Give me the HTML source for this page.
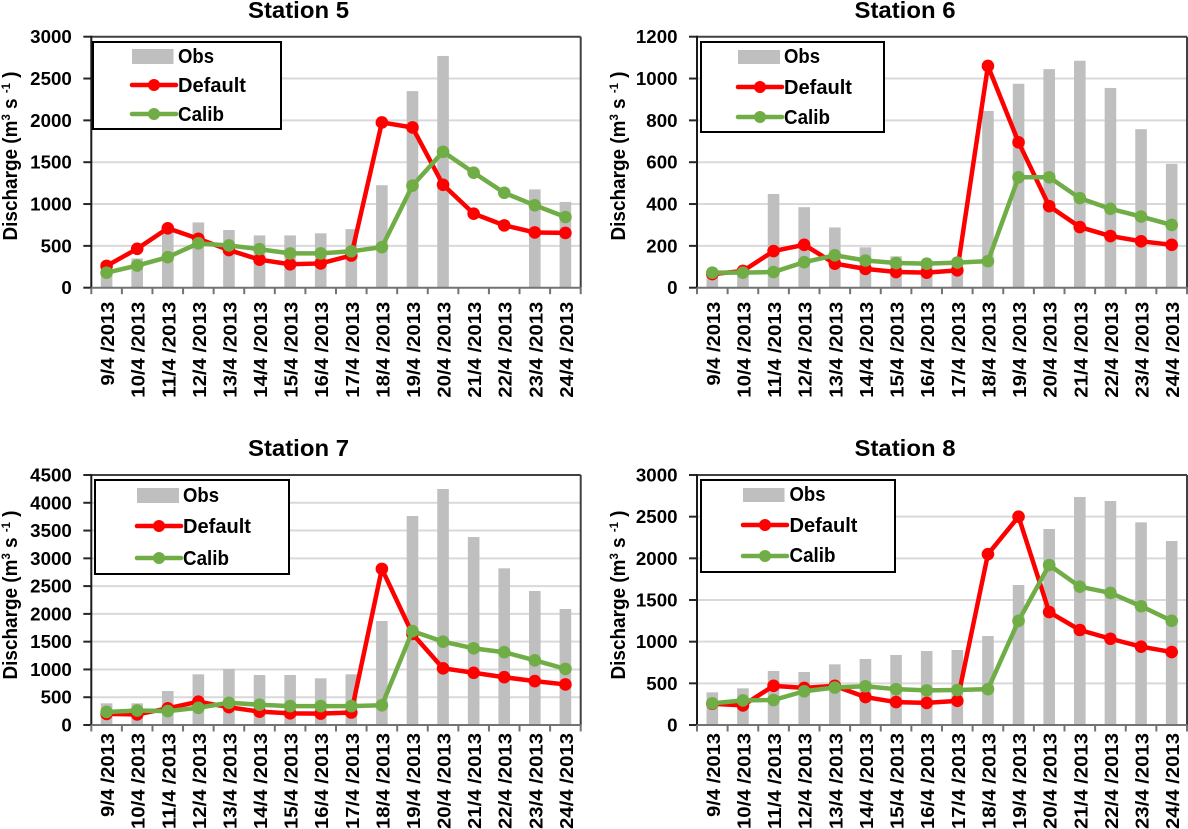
<!DOCTYPE html>
<html lang="en">
<head>
<meta charset="utf-8">
<title>Discharge at Stations 5 to 8</title>
<style>
html,body{margin:0;padding:0;background:#fff;width:1188px;height:829px;overflow:hidden}
svg{display:block}
text{font-family:"Liberation Sans",sans-serif;font-weight:bold;fill:#000}
</style>
</head>
<body>
<svg id="chart" xmlns="http://www.w3.org/2000/svg" width="1188" height="829" viewBox="0 0 1188 829"></svg>
<script>
const categories = ["9/4 /2013","10/4 /2013","11/4 /2013","12/4 /2013","13/4 /2013","14/4 /2013","15/4 /2013","16/4 /2013","17/4 /2013","18/4 /2013","19/4 /2013","20/4 /2013","21/4 /2013","22/4 /2013","23/4 /2013","24/4 /2013"];

const station5Ticks = [0,500,1000,1500,2000,2500,3000];
const station5Obs = [310,350,700,780,690,625,625,650,700,1225,2350,2770,0,0,1175,1025];
const station5Default = [260,465,710,585,450,335,280,290,385,1975,1915,1230,885,745,660,655];
const station5Calib = [180,265,365,530,505,460,410,410,435,485,1220,1625,1375,1135,985,845];

const station6Ticks = [0,200,400,600,800,1000,1200];
const station6Obs = [75,90,448,385,288,193,150,115,125,845,975,1045,1085,955,758,592];
const station6Default = [65,80,175,205,115,90,75,72,83,1060,695,390,290,247,222,205];
const station6Calib = [72,72,75,122,155,130,118,115,120,127,528,528,428,377,340,300];

const station7Ticks = [0,500,1000,1500,2000,2500,3000,3500,4000,4500];
const station7Obs = [390,390,612,912,1008,900,900,840,912,1872,3762,4248,3384,2820,2412,2088];
const station7Default = [200,190,300,420,320,240,210,205,225,2810,1640,1020,940,860,790,730];
const station7Calib = [235,260,250,310,400,365,340,340,340,355,1690,1500,1380,1310,1165,1010];

const station8Ticks = [0,500,1000,1500,2000,2500,3000];
const station8Obs = [392,440,648,636,728,792,840,888,900,1068,1680,2352,2736,2688,2432,2208];
const station8Default = [255,235,470,445,470,335,275,265,290,2050,2500,1355,1140,1035,940,875];
const station8Calib = [260,295,300,405,450,465,430,415,420,430,1250,1920,1660,1585,1425,1250];

const panels = [
  {id:"station-5",title:"Station 5",ticks:station5Ticks,obs:station5Obs,def:station5Default,cal:station5Calib,
   x0:91.3,x1:580.7,y0:287.7,y1:36.7,labelTop:301.7,titleX:298.5,titleY:18,yTitleX:17,yTitleMid:156,
   box:[93,42,281,129],swatch:[132,49,173.5,64],lineX:[132,176],textX:178,base:[63,92,121],lineY:[85,114]},
  {id:"station-6",title:"Station 6",ticks:station6Ticks,obs:station6Obs,def:station6Default,cal:station6Calib,
   x0:697,x1:1187,y0:287.7,y1:36.7,labelTop:301.7,titleX:905,titleY:18,yTitleX:625,yTitleMid:156,
   box:[701,42,884,132],swatch:[738,50,780,64],lineX:[738,782],textX:784,base:[63,94,124],lineY:[87,117]},
  {id:"station-7",title:"Station 7",ticks:station7Ticks,obs:station7Obs,def:station7Default,cal:station7Calib,
   x0:91.3,x1:580.7,y0:725,y1:475,labelTop:733,titleX:298.5,titleY:456,yTitleX:17,yTitleMid:595,
   box:[95,480,289,574],swatch:[137,488,179,503],lineX:[137,181],textX:183,base:[502,533,565],lineY:[526,558]},
  {id:"station-8",title:"Station 8",ticks:station8Ticks,obs:station8Obs,def:station8Default,cal:station8Calib,
   x0:697,x1:1187,y0:725,y1:475,labelTop:733,titleX:905,titleY:456,yTitleX:625,yTitleMid:595,
   box:[701,480,895,572],swatch:[743,488,784.5,502],lineX:[743,787],textX:789.5,base:[501,532,562],lineY:[525,556]}
];

const NS = "http://www.w3.org/2000/svg";
const root = document.getElementById("chart");

function make(tag, parent, props, content) {
  const el = document.createElementNS(NS, tag);
  for (const k in props) el.setAttribute(k, props[k]);
  if (content !== undefined) el.textContent = content;
  parent.appendChild(el);
  return el;
}

function drawPanel(p) {
  const g = make("g", root, {});
  
  

  const band = (p.x1 - p.x0) / categories.length;
  const xScale = i => p.x0 + band * (i + 0.5);
  const yMax = p.ticks[p.ticks.length - 1];
  const yScale = v => p.y0 - (v / yMax) * (p.y0 - p.y1);

  const title = make("text", g, {x:p.titleX,y:p.titleY,"text-anchor":"middle","font-size":23,textLength:101,lengthAdjust:"spacingAndGlyphs"}, p.title);
  
  

  // gridlines and y ticks
  p.ticks.forEach(t => {
    const y = yScale(t);
    if (t !== 0 && t !== yMax) {
      const grid = make("line", g, {x1:p.x0,x2:p.x1,y1:y,y2:y,stroke:"#d9d9d9","stroke-width":2});
      
      
    }
    const tick = make("line", g, {x1:p.x0-8,x2:p.x0,y1:y,y2:y,stroke:"#262626","stroke-width":2});
    
    
    const label = String(t);
    const tl = make("text", g, {x:p.x0-19.5,y:y+6.5,"text-anchor":"end","font-size":18,textLength:label.length*10.4,lengthAdjust:"spacingAndGlyphs"}, label);
    
    
  });

  // observed bars
  p.obs.forEach((v, i) => {
    if (v <= 0) return;
    const bar = make("rect", g, {x:xScale(i)-5.8,y:yScale(v),width:11.6,height:p.y0-yScale(v),fill:"#bfbfbf"});
    
    
  });

  // plot frame
  const topEdge = make("line", g, {x1:p.x0,x2:p.x1,y1:p.y1,y2:p.y1,stroke:"#404040","stroke-width":2});
  
  
  const rightEdge = make("line", g, {x1:p.x1,x2:p.x1,y1:p.y1,y2:p.y0,stroke:"#404040","stroke-width":2});
  
  
  const yAxis = make("line", g, {x1:p.x0,x2:p.x0,y1:p.y1-1,y2:p.y0,stroke:"#1a1a1a","stroke-width":2});
  
  
  const xAxis = make("line", g, {x1:p.x0,x2:p.x1,y1:p.y0,y2:p.y0,stroke:"#737373","stroke-width":2});
  
  

  // x ticks and labels
  for (let i = 0; i <= categories.length; i++) {
    const x = p.x0 + band * i;
    const tick = make("line", g, {x1:x,x2:x,y1:p.y0,y2:p.y0+6.5,stroke:"#737373","stroke-width":2});
    
    
  }
  categories.forEach((c, i) => {
    const bx = xScale(i) + 7.5;
    const by = p.labelTop;
    const len = c.length === 9 ? 84 : 96;
    const tl = make("text", g, {x:0,y:0,transform:"translate("+bx+" "+by+") rotate(-90)","text-anchor":"end","font-size":18,textLength:len,lengthAdjust:"spacingAndGlyphs"}, c);
    
    
  });

  // y axis title
  const yt = make("text", g, {x:0,y:0,transform:"translate("+p.yTitleX+" "+p.yTitleMid+") rotate(-90)","text-anchor":"middle","font-size":20,textLength:169,lengthAdjust:"spacingAndGlyphs"});
  
  
  make("tspan", yt, {}, "Discharge (m");
  make("tspan", yt, {"font-size":12,dy:-7}, "3");
  make("tspan", yt, {dy:7}, " s ");
  make("tspan", yt, {"font-size":12,dy:-7}, "-1");
  make("tspan", yt, {dy:7}, " )");

  // series
  drawSeries(g, p.def, "#ff0000", "default", xScale, yScale);
  drawSeries(g, p.cal, "#70ad47", "calib", xScale, yScale);

  // legend
  const b = p.box;
  const lg = make("g", g, {});
  
  
  const frame = make("rect", lg, {x:b[0],y:b[1],width:b[2]-b[0],height:b[3]-b[1],fill:"#fff",stroke:"#000","stroke-width":2});
  
  
  const s = p.swatch;
  const sw = make("rect", lg, {x:s[0],y:s[1],width:s[2]-s[0],height:s[3]-s[1],fill:"#bfbfbf"});
  
  
  const t1 = make("text", lg, {x:p.textX,y:p.base[0],"font-size":20,textLength:36,lengthAdjust:"spacingAndGlyphs"}, "Obs");
  
  
  legendLine(lg, p, p.lineY[0], "#ff0000", "default");
  const t2 = make("text", lg, {x:p.textX,y:p.base[1],"font-size":20,textLength:68,lengthAdjust:"spacingAndGlyphs"}, "Default");
  
  
  legendLine(lg, p, p.lineY[1], "#70ad47", "calib");
  const t3 = make("text", lg, {x:p.textX,y:p.base[2],"font-size":20,textLength:46,lengthAdjust:"spacingAndGlyphs"}, "Calib");
  
  
}

function drawSeries(g, values, color, name, xScale, yScale) {
  const pts = values.map((v, i) => xScale(i) + "," + yScale(v)).join(" ");
  const line = make("polyline", g, {points:pts,fill:"none",stroke:color,"stroke-width":4.5,"stroke-linejoin":"round"});
  
  
  values.forEach((v, i) => {
    const dot = make("circle", g, {cx:xScale(i),cy:yScale(v),r:6.3,fill:color});
    
    
  });
}

function legendLine(lg, p, y, color, name) {
  const l = make("line", lg, {x1:p.lineX[0],x2:p.lineX[1],y1:y,y2:y,stroke:color,"stroke-width":4.5,"stroke-linecap":"round"});
  
  
  const m = make("circle", lg, {cx:(p.lineX[0]+p.lineX[1])/2,cy:y,r:6,fill:color});
  
  
}

panels.forEach(drawPanel);
</script>
</body>
</html>
